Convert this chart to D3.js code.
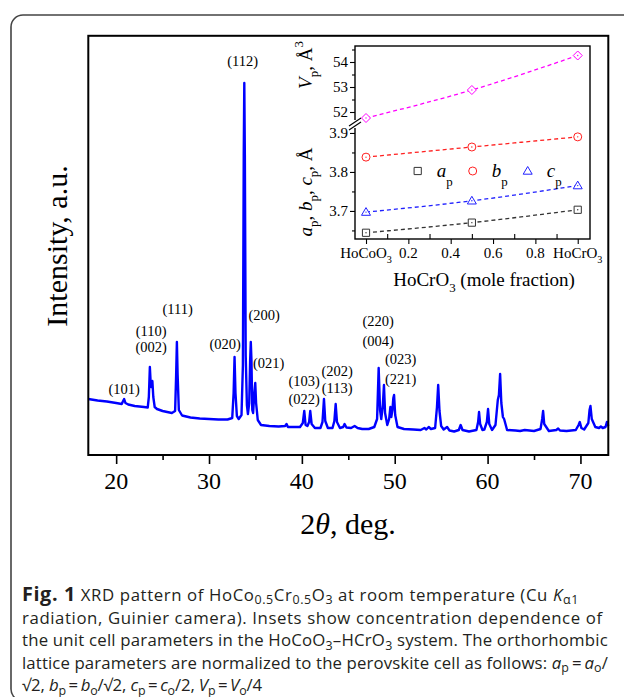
<!DOCTYPE html>
<html>
<head>
<meta charset="utf-8">
<script src="https://cdn.jsdelivr.net/npm/d3@7"></script>
<style>
	body { margin: 0; background: #fff; }
	svg { display: block; }
</style>
</head>
<body>
<script>
// XRD pattern, 2theta (deg) vs intensity (a.u.)
const pattern = [
	[17.0,56],[18.0,54.5],[19.0,53.5],[20.0,52],[20.6,51],[20.75,54],[20.86,56],[21.0,52],[21.3,50.5],
	[22.0,49],[23.0,48],[23.4,47.5],[23.52,58],[23.63,88],[23.74,68],[23.8,70],[23.9,74],[24.0,58],
	[24.15,48],[24.4,46],[25.0,44],[26.0,42],[26.35,44],[26.46,80],[26.54,113],[26.62,80],[26.75,45],
	[27.1,39.5],[28.0,37.5],[29.0,36.5],[30.0,36],[31.0,35.5],[32.0,35.5],[32.5,37],[32.65,62],
	[32.75,98],[32.85,62],[33.0,39],[33.2,36],[33.5,40],[33.65,90],[33.74,300],[33.8,372],[33.86,300],
	[33.95,100],[34.08,50],[34.19,41],[34.33,52],[34.43,95],[34.5,113],[34.57,95],[34.66,45],[34.75,42],
	[34.88,62],[34.98,72],[35.07,52],[35.25,35],[35.6,30],[36.5,29],[37.5,28.5],[38.2,29],[38.35,31],
	[38.5,28],[39.0,28],[39.8,28],[40.1,32],[40.26,44],[40.4,30],[40.6,29],[40.78,33],[40.9,44],
	[41.05,31],[41.4,27],[42.0,27],[42.22,33],[42.38,56],[42.52,34],[42.8,27],[43.3,27],[43.5,34],
	[43.64,51],[43.78,33],[44.1,27],[44.45,28],[44.6,31],[44.8,27.5],[45.3,27],[45.68,29],[46.0,27],
	[46.5,26],[47.2,26],[47.8,28],[48.1,36],[48.27,87],[48.42,45],[48.55,36],[48.72,50],[48.84,70],
	[48.96,42],[49.2,30],[49.4,36],[49.53,48],[49.63,38],[49.75,45],[49.85,57],[49.93,60],[50.05,40],
	[50.3,28],[51.0,26],[52.0,25.5],[52.8,25],[53.2,27],[53.4,25.5],[53.66,28],[53.9,26],[54.35,27],
	[54.55,48],[54.68,70],[54.82,44],[55.0,29],[55.27,25.5],[55.64,28],[55.9,24.5],[56.4,23.5],[56.9,25],
	[57.1,30],[57.3,25],[58.0,23.5],[58.8,25],[58.98,33],[59.08,43],[59.2,31],[59.45,25],[59.65,25.5],
	[59.92,33],[60.05,46],[60.18,31],[60.48,25],[60.85,30],[61.1,55],[61.22,60],[61.35,81],[61.48,52],
	[61.65,38],[61.78,36],[62.1,25],[63.0,24.5],[63.5,24],[64.0,25],[65.0,24],[65.7,26],[65.88,36],
	[65.98,44],[66.1,31],[66.6,24],[67.4,25],[67.6,26.5],[67.8,24.5],[68.5,24],[69.5,25],[69.8,30],
	[69.93,33],[70.1,27],[70.4,25.5],[70.85,32],[70.98,45],[71.08,49],[71.22,36],[71.6,28],[72.0,27],
	[72.2,28.5],[72.4,27],[72.7,28],[72.85,33],[73.0,29]
];
// Miller index labels: [2theta, intensity, text]
const peakLabels = [
	[33.62,394,"(112)"],[26.62,146,"(111)"],[23.77,124.5,"(110)"],[23.77,108.5,"(002)"],
	[20.86,66,"(101)"],[31.74,111.5,"(020)"],[35.94,140,"(200)"],[36.42,92.5,"(021)"],
	[40.25,74,"(103)"],[40.25,56.5,"(022)"],[43.8,84,"(202)"],[43.8,67.5,"(113)"],
	[48.21,134,"(220)"],[48.21,114,"(004)"],[50.64,96,"(023)"],[50.64,76,"(221)"]
];
const xTicks = [20,30,40,50,60,70];
const xMinorTicks = [25,35,45,55,65];

// inset: HoCrO3 mole fraction vs perovskite cell parameters
const molFrac = [0, 0.5, 1];
const aP = [3.644, 3.670, 3.703];
const bP = [3.838, 3.864, 3.890];
const cP = [3.697, 3.726, 3.765];
const vP = [51.76, 52.88, 54.26];
const insetXTicks = [0, 0.2, 0.4, 0.6, 0.8, 1];
const insetXMinor = [0.1, 0.3, 0.5, 0.7, 0.9];
const insetXLabels = ["HoCoO", "0.2", "0.4", "0.6", "0.8", "HoCrO"];
const vTicks = [52, 53, 54];
const vMinor = [52.5, 53.5, 54.5];
const abcTicks = [3.7, 3.8, 3.9];
const abcMinor = [3.65, 3.75, 3.85];

const serif = "Liberation Serif";
const sans = "Open Sans";
const thin = '\u2009';

const svg = d3.select('body').append('svg')
	.attr('width', 624)
	.attr('height', 697);

// rich text helper: parts = [[str, kind]], kind: n b i s(sub) is(italic sub) u(sup)
const addRich = (textSel, parts, fs, subScale = 0.68, subShift = 0.3) => {
	let shift = 0;
	parts.forEach(([s, k]) => {
		const isSub = k.includes('s');
		const isSup = k.includes('u');
		const target = isSub ? fs * subShift : isSup ? -fs * 0.45 : 0;
		const t = textSel.append('tspan').attr('dy', target - shift).text(s);
		shift = target;
		if (isSub || isSup) t.attr('font-size', fs * subScale);
		if (k.includes('i')) t.attr('font-style', 'italic');
		if (k.includes('b')) t.attr('font-weight', 'bold').attr('font-size', fs * 1.18);
	});
};

// outer rounded border
svg.append('rect')
	.attr('x', 11).attr('y', 15)
	.attr('width', 640).attr('height', 686)
	.attr('rx', 12)
	.attr('fill', 'none')
	.attr('stroke', '#444')
	.attr('stroke-width', 1.6);

// ---------- main plot ----------
const x = d3.scaleLinear().domain([17, 73]).range([88.3, 608.3]);
const y = d3.scaleLinear().domain([0, 419.2]).range([455, 35.8]);

const main = svg.append('g').attr('class', 'main');

main.append('path')
	.datum(pattern)
	.attr('fill', 'none')
	.attr('stroke', '#0000ff')
	.attr('stroke-width', 2.4)
	.attr('stroke-linejoin', 'round')
	.attr('d', d3.line().x(d => x(d[0])).y(d => y(d[1])));

main.append('rect')
	.attr('x', x(17)).attr('y', y(419.2))
	.attr('width', x(73) - x(17))
	.attr('height', y(0) - y(419.2))
	.attr('fill', 'none')
	.attr('stroke', '#000')
	.attr('stroke-width', 2);

const xMinorAxis = main.append('g')
	.attr('transform', `translate(0,${y(0)})`)
	.call(d3.axisBottom(x).tickValues(xMinorTicks).tickSize(5).tickFormat(''));
const xAxis = main.append('g')
	.attr('transform', `translate(0,${y(0)})`)
	.call(d3.axisBottom(x).tickValues(xTicks).tickSize(9).tickFormat(''));
[xMinorAxis, xAxis].forEach(g => {
	g.select('.domain').remove();
	g.selectAll('line').attr('stroke', '#000').attr('stroke-width', 1.6);
});
main.selectAll('.x-label')
	.data(xTicks).enter()
	.append('text')
	.attr('class', 'x-label')
	.attr('x', d => x(d))
	.attr('y', 489)
	.attr('text-anchor', 'middle')
	.attr('font-family', serif)
	.attr('font-size', 24)
	.text(d => d);

main.selectAll('.peak-label')
	.data(peakLabels).enter()
	.append('text')
	.attr('class', 'peak-label')
	.attr('x', d => x(d[0]))
	.attr('y', d => y(d[1]))
	.attr('dy', '0.35em')
	.attr('text-anchor', 'middle')
	.attr('font-family', serif)
	.attr('font-size', 14.5)
	.text(d => d[2]);

main.append('text')
	.attr('transform', 'translate(67,246) rotate(-90)')
	.attr('text-anchor', 'middle')
	.attr('font-family', serif)
	.attr('font-size', 30)
	.text('Intensity, a.u.');

const xTitle = main.append('text')
	.attr('x', 348).attr('y', 534)
	.attr('text-anchor', 'middle')
	.attr('font-family', serif)
	.attr('font-size', 30);
addRich(xTitle, [['2', 'n'], ['θ', 'i'], [', deg.', 'n']], 30);

// ---------- inset ----------
const ix = d3.scaleLinear().domain([-0.052, 1.058]).range([355, 590]);
const iyV = d3.scaleLinear().domain([51.52, 54.64]).range([124, 46]);
const iyA = d3.scaleLinear().domain([3.628, 3.923]).range([239, 124]);
const inset = svg.append('g').attr('class', 'inset');

inset.append('rect')
	.attr('x', 355).attr('y', 46)
	.attr('width', 235).attr('height', 193)
	.attr('fill', '#fff')
	.attr('stroke', '#000')
	.attr('stroke-width', 1.4);

// axis break on the left side
inset.append('line')
	.attr('x1', 355).attr('x2', 355)
	.attr('y1', 120).attr('y2', 128)
	.attr('stroke', '#fff').attr('stroke-width', 3);
[-2, 2].forEach(o => {
	inset.append('line')
		.attr('x1', 349).attr('y1', 128 + o)
		.attr('x2', 361).attr('y2', 120 + o)
		.attr('stroke', '#000').attr('stroke-width', 1.1);
});

const leftAxis = (scale, major, minor, fmt) => {
	const gMinor = inset.append('g')
		.attr('transform', 'translate(355,0)')
		.call(d3.axisLeft(scale).tickValues(minor).tickSize(3).tickFormat(''));
	const gMajor = inset.append('g')
		.attr('transform', 'translate(355,0)')
		.call(d3.axisLeft(scale).tickValues(major).tickSize(5).tickFormat(''));
	[gMinor, gMajor].forEach(g => {
		g.select('.domain').remove();
		g.selectAll('line').attr('stroke', '#000').attr('stroke-width', 1.1);
	});
	inset.selectAll(null)
		.data(major).enter()
		.append('text')
		.attr('x', 348)
		.attr('y', d => scale(d))
		.attr('dy', '0.34em')
		.attr('text-anchor', 'end')
		.attr('font-family', serif)
		.attr('font-size', 15)
		.text(d => fmt(d));
};
leftAxis(iyV, vTicks, vMinor, d3.format('d'));
leftAxis(iyA, abcTicks, abcMinor, d3.format('.1f'));

const bMinor = inset.append('g')
	.attr('transform', 'translate(0,239)')
	.call(d3.axisTop(ix).tickValues(insetXMinor).tickSize(5).tickFormat(''));
const bMajor = inset.append('g')
	.attr('transform', 'translate(0,239)')
	.call(d3.axisBottom(ix).tickValues(insetXTicks).tickSize(5).tickFormat(''));
[bMinor, bMajor].forEach(g => {
	g.select('.domain').remove();
	g.selectAll('line').attr('stroke', '#000').attr('stroke-width', 1.1);
});
inset.selectAll('.ix-label')
	.data(insetXTicks).enter()
	.append('text')
	.attr('class', 'ix-label')
	.attr('x', d => ix(d))
	.attr('y', 258)
	.attr('text-anchor', 'middle')
	.attr('font-family', serif)
	.attr('font-size', 15)
	.each(function (d, i) {
		const t = d3.select(this);
		if (i === 0 || i === insetXTicks.length - 1) addRich(t, [[insetXLabels[i], 'n'], ['3', 's']], 15);
		else t.text(insetXLabels[i]);
	});

const ixTitle = inset.append('text')
	.attr('x', 484).attr('y', 286)
	.attr('text-anchor', 'middle')
	.attr('font-family', serif)
	.attr('font-size', 19);
addRich(ixTitle, [['HoCrO', 'n'], ['3', 's'], [' (mole fraction)', 'n']], 19);

const vLabel = inset.append('text')
	.attr('transform', 'translate(312,65) rotate(-90)')
	.attr('text-anchor', 'middle')
	.attr('font-family', serif)
	.attr('font-size', 19);
addRich(vLabel, [['V', 'i'], ['p', 's'], [', Å', 'n'], ['3', 'u']], 19);

const abcLabel = inset.append('text')
	.attr('transform', 'translate(312,192) rotate(-90)')
	.attr('text-anchor', 'middle')
	.attr('font-family', serif)
	.attr('font-size', 19);
addRich(abcLabel, [['a', 'i'], ['p', 's'], [', ', 'n'], ['b', 'i'], ['p', 's'], [', ', 'n'],
	['c', 'i'], ['p', 's'], [', Å', 'n']], 19);

const series = [
	{ name: 'V', values: vP, scale: iyV, color: '#ff00ff', marker: 'diamond' },
	{ name: 'b', values: bP, scale: iyA, color: '#ff2020', marker: 'circle' },
	{ name: 'c', values: cP, scale: iyA, color: '#2020ff', marker: 'triangle' },
	{ name: 'a', values: aP, scale: iyA, color: '#333333', marker: 'square' }
];
const markerPath = {
	diamond: 'M0,-4.5L4.5,0L0,4.5L-4.5,0Z',
	circle: 'M4,0A4,4 0 1,1 -4,0A4,4 0 1,1 4,0Z',
	triangle: 'M0,-4.5L4.5,3.2L-4.5,3.2Z',
	square: 'M-3.6,-3.6H3.6V3.6H-3.6Z'
};

series.forEach(s => {
	const pts = molFrac.map((m, i) => [m, s.values[i]]);
	inset.append('path')
		.datum(pts)
		.attr('fill', 'none')
		.attr('stroke', s.color)
		.attr('stroke-width', 1.3)
		.attr('stroke-dasharray', '4,3')
		.attr('d', d3.line().curve(d3.curveNatural).x(d => ix(d[0])).y(d => s.scale(d[1])));
	const g = inset.selectAll(`.pt-${s.name}`)
		.data(pts).enter()
		.append('g')
		.attr('class', `pt-${s.name}`)
		.attr('transform', d => `translate(${ix(d[0])},${s.scale(d[1])})`);
	g.append('path')
		.attr('d', markerPath[s.marker])
		.attr('fill', '#fff')
		.attr('stroke', s.color)
		.attr('stroke-width', 1);
	g.append('circle')
		.attr('r', 0.7)
		.attr('fill', s.color);
});

// legend for a_p, b_p, c_p
const legendItems = [
	{ label: 'a', color: '#333333', marker: 'square', x: 417.7 },
	{ label: 'b', color: '#ff2020', marker: 'circle', x: 472.7 },
	{ label: 'c', color: '#2020ff', marker: 'triangle', x: 527.7 }
];
legendItems.forEach(l => {
	inset.append('path')
		.attr('transform', `translate(${l.x},171)`)
		.attr('d', markerPath[l.marker])
		.attr('fill', '#fff')
		.attr('stroke', l.color)
		.attr('stroke-width', 1);
	const t = inset.append('text')
		.attr('x', l.x + 19).attr('y', 177)
		.attr('font-family', serif)
		.attr('font-size', 19);
	addRich(t, [[l.label, 'i'], ['p', 's']], 19, 0.68, 0.45);
});

// ---------- caption ----------
const captionLines = [
	[['Fig. 1', 'b'], [' XRD pattern of HoCo', 'n'], ['0.5', 's'], ['Cr', 'n'], ['0.5', 's'], ['O', 'n'], ['3', 's'],
		[' at room temperature (Cu ', 'n'], ['K', 'i'], ['α1', 's']],
	[['radiation, Guinier camera). Insets show concentration dependence of', 'n']],
	[['the unit cell parameters in the HoCoO', 'n'], ['3', 's'], ['–HCrO', 'n'], ['3', 's'], [' system. The orthorhombic', 'n']],
	[['lattice parameters are normalized to the perovskite cell as follows: ', 'n'], ['a', 'i'], ['p', 's'],
		[thin + '=' + thin, 'n'], ['a', 'i'], ['o', 's'], ['/', 'n']],
	[['√2, ', 'n'], ['b', 'i'], ['p', 's'], [thin + '=' + thin, 'n'], ['b', 'i'], ['o', 's'], ['/√2, ', 'n'], ['c', 'i'], ['p', 's'],
		[thin + '=' + thin, 'n'], ['c', 'i'], ['o', 's'], ['/2, ', 'n'], ['V', 'i'], ['p', 's'], [thin + '=' + thin, 'n'], ['V', 'i'], ['o', 's'], ['/4', 'n']]
];
// right end of each caption line in the reference
const captionEnds = [595, 608, 608, 608, 262];
captionLines.forEach((parts, i) => {
	const t = svg.append('text')
		.attr('x', 22)
		.attr('y', 601 + i * 22.6)
		.attr('font-family', sans)
		.attr('font-size', 16.8)
		.attr('fill', '#231f20');
	addRich(t, parts, 16.8, 0.74, 0.2);
	// fit the line to its measured width with a small letter-spacing tweak
	const w = t.node().getComputedTextLength();
	const n = parts.map(p => p[0]).join('').length;
	const ls = Math.max(-0.6, Math.min(0.6, (captionEnds[i] - 22 - w) / n));
	t.attr('letter-spacing', ls.toFixed(3));
});
</script>
</body>
</html>
